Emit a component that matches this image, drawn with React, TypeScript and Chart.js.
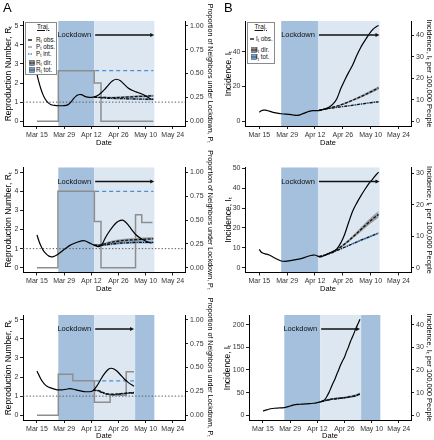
import React, { useEffect, useRef } from 'react';
import { Chart, registerables } from 'chart.js';

Chart.register(...registerables);

type Pt = [number, number];
type Rib = [number, number, number, number]; // day, middle, lower, upper
type Phase = [number, number, string];

const FONT = "'Liberation Sans', Arial, Helvetica, sans-serif";
Chart.defaults.font.family = FONT;

// ---------- shared axis values (x = day, counted so that Mar 15 = 15) ----------
const X_RANGE: Pt = [7.8, 91.3];
const X_TICK_DAYS = [15, 29, 43, 57, 71, 85];
const X_TICK_LABELS = ['Mar 15', 'Mar 29', 'Apr 12', 'Apr 26', 'May 10', 'May 24'];
const R_RANGE: Pt = [-0.25, 5.25];
const R_TICKS = [0, 1, 2, 3, 4, 5];
const P_RANGE: Pt = [-0.05, 1.05];
const P_TICKS = [0, 0.25, 0.5, 0.75, 1];
const R_REFERENCE = 1;

const PHASES_12: Phase[] = [[26, 44.5, 'dark'], [44.5, 75.5, 'light']];
const PHASES_3: Phase[] = [[26, 44.5, 'dark'], [44.5, 65.6, 'light'], [65.6, 75.5, 'dark']];
const LOCKDOWN_12: Pt = [45, 75.2];
const LOCKDOWN_3: Pt = [45, 64.8];

// ---------- Row 1, panel A ----------
const A1_R_OBS: Pt[] = [[15,2.45],[16,2.05],[17,1.7],[18,1.42],[19,1.2],[20,1.05],[21,0.95],[22,0.88],[24,0.83],[26,0.81],[28,0.81],[30,0.83],[31,0.87],[32,0.95],[33,1.07],[34,1.2],[35,1.3],[36,1.37],[37,1.4],[38,1.39],[39,1.34],[40,1.29],[42,1.25],[44,1.26],[46,1.33],[48,1.48],[50,1.68],[52,1.92],[54,2.12],[56,2.2],[58,2.12],[60,1.93],[62,1.74],[64,1.62],[66,1.54],[68,1.47],[70,1.39],[72,1.27],[74,1.14]];
const A1_P_OBS: Pt[] = [[15,0],[26,0.53],[44.5,0.4],[48,0],[75,0]];
const A1_P_INT: Pt[] = [[45,0.53],[75,0.53]];
const A1_R_DIR: Rib[] = [[44.5,1.26,1.25,1.27],[48,1.25,1.22,1.28],[52,1.24,1.2,1.28],[56,1.24,1.2,1.29],[60,1.26,1.21,1.31],[64,1.28,1.23,1.34],[68,1.3,1.24,1.36],[72,1.32,1.26,1.38],[75,1.33,1.27,1.39]];
const A1_R_TOT: Rib[] = [[44.5,1.26,1.25,1.27],[48,1.23,1.2,1.26],[52,1.2,1.17,1.24],[56,1.19,1.15,1.23],[60,1.18,1.14,1.22],[64,1.17,1.13,1.22],[68,1.16,1.12,1.21],[72,1.15,1.1,1.2],[75,1.15,1.1,1.2]];

// ---------- Row 2, panel A ----------
const A2_R_OBS: Pt[] = [[15,1.72],[16,1.4],[17,1.15],[18,0.95],[19,0.8],[20,0.7],[21,0.62],[22,0.58],[23,0.57],[24,0.6],[25,0.65],[26,0.72],[27,0.8],[28,0.88],[30,1.03],[32,1.17],[34,1.27],[36,1.35],[38,1.41],[39,1.42],[40,1.4],[42,1.3],[44,1.2],[46,1.12],[47,1.11],[48,1.16],[49,1.3],[50,1.52],[51,1.7],[52,1.86],[54,2.14],[56,2.37],[58,2.48],[59,2.49],[60,2.45],[62,2.25],[64,1.97],[66,1.73],[68,1.57],[70,1.45],[72,1.36],[74,1.28]];
const A2_P_OBS: Pt[] = [[15,0],[25.8,0.8],[44.6,0.485],[48,0],[65.8,0.555],[69,0.475],[74.5,0.475]];
const A2_P_INT: Pt[] = [[45,0.8],[75,0.8]];
const A2_R_DIR: Rib[] = [[44.5,1.18,1.16,1.2],[48,1.2,1.15,1.25],[52,1.3,1.23,1.37],[56,1.38,1.3,1.46],[60,1.43,1.35,1.52],[64,1.46,1.38,1.55],[68,1.48,1.4,1.57],[72,1.5,1.42,1.59],[75,1.52,1.43,1.61]];
const A2_R_TOT: Rib[] = [[44.5,1.18,1.16,1.2],[48,1.17,1.13,1.21],[52,1.22,1.17,1.28],[56,1.27,1.21,1.33],[60,1.3,1.24,1.36],[64,1.32,1.26,1.39],[68,1.33,1.27,1.4],[72,1.33,1.27,1.4],[75,1.33,1.27,1.4]];

// ---------- Row 3, panel A ----------
const A3_R_OBS: Pt[] = [[15,2.31],[16,2.1],[17,1.9],[18,1.74],[19,1.62],[20,1.53],[22,1.43],[24,1.37],[26,1.33],[28,1.33],[30,1.36],[32,1.39],[34,1.36],[36,1.3],[38,1.26],[40,1.23],[42,1.23],[44,1.3],[46,1.55],[48,1.9],[50,2.2],[52,2.42],[53,2.46],[54,2.45],[56,2.33],[58,2.12],[60,1.9],[62,1.72],[64,1.58],[65,1.52]];
const A3_P_OBS: Pt[] = [[15,0],[26,0.43],[33.5,0.36],[44.6,0.135],[52.7,0.21],[61,0.455],[65,0.455]];
const A3_P_INT: Pt[] = [[45,0.36],[65,0.36]];
const A3_R_DIR: Rib[] = [[44,1.3,1.29,1.31],[46,1.3,1.27,1.33],[48,1.24,1.21,1.27],[50,1.15,1.12,1.18],[52,1.11,1.08,1.14],[54,1.1,1.07,1.13],[56,1.11,1.08,1.14],[58,1.13,1.1,1.16],[60,1.15,1.12,1.18],[62,1.17,1.14,1.2],[65,1.19,1.16,1.22]];
const A3_R_TOT: Rib[] = [[44,1.3,1.29,1.31],[46,1.29,1.26,1.32],[48,1.21,1.18,1.24],[50,1.13,1.1,1.16],[52,1.09,1.06,1.12],[54,1.08,1.05,1.11],[56,1.09,1.06,1.12],[58,1.11,1.08,1.14],[60,1.13,1.1,1.16],[62,1.15,1.12,1.18],[65,1.17,1.14,1.2]];

// ---------- Row 1, panel B ----------
const B1_RANGE: Pt = [-2.75, 57.75];
const B1_TICKS = [0, 20, 40];
const B1_PER100K = 0.806;
const B1_TICKS_100K = [0, 10, 20, 30, 40];
const B1_I_OBS: Pt[] = [[15,5.2],[16,6],[17,6.4],[18,6.4],[20,5.8],[22,5.1],[24,4.7],[26,4.3],[28,4.1],[30,3.9],[32,3.6],[34,3.4],[35,3.5],[36,3.9],[38,4.8],[40,5.7],[42,6.1],[44,6.1],[46,6.4],[48,7.1],[50,8],[52,9.8],[54,13],[56,18.8],[58,23.8],[60,28.3],[62,32.5],[64,37.8],[66,42.5],[68,46.3],[70,49.8],[72,52.8],[74,54.6],[75,55.2]];
const B1_I_DIR: Rib[] = [[45,6.3,6.2,6.4],[50,7.5,7.2,7.8],[55,9,8.6,9.4],[60,11.2,10.7,11.7],[65,13.6,13,14.3],[70,16.3,15.5,17.1],[75,19.2,18.3,20.1]];
const B1_I_TOT: Rib[] = [[45,6.3,6.2,6.4],[50,7.3,7.1,7.5],[55,8.1,7.9,8.4],[60,8.9,8.6,9.2],[65,9.7,9.4,10],[70,10.5,10.2,10.9],[75,11.2,10.8,11.6]];

// ---------- Row 2, panel B ----------
const B2_RANGE: Pt = [-2.4, 50.4];
const B2_TICKS = [0, 10, 20, 30, 40, 50];
const B2_PER100K = 0.632;
const B2_TICKS_100K = [0, 10, 20, 30];
const B2_I_OBS: Pt[] = [[15,9.2],[16,7.8],[17,7.3],[18,7],[20,6.4],[22,5.3],[24,4.3],[26,3.4],[28,3.2],[30,3.4],[32,3.8],[34,4.2],[36,4.6],[38,5.2],[40,5.9],[42,6.3],[43,6.4],[44,6],[45,5.6],[46,5.5],[48,6.3],[50,7.3],[52,8.2],[54,9.5],[56,12.5],[58,17],[60,23],[62,28.5],[64,32.5],[66,36],[68,39.2],[70,42.2],[72,44.6],[74,47],[75,48]];
const B2_I_DIR: Rib[] = [[45,5.6,5.5,5.7],[48,6.4,6.2,6.6],[51,7.5,7.2,7.8],[54,9.1,8.7,9.5],[57,11.2,10.6,11.8],[60,13.6,12.9,14.3],[63,16.3,15.4,17.2],[66,19.1,18,20.2],[69,21.9,20.6,23.2],[72,24.5,23,26],[75,26.8,25.2,28.4]];
const B2_I_TOT: Rib[] = [[45,5.6,5.5,5.7],[48,6.4,6.2,6.6],[51,7.3,7.1,7.5],[54,8.6,8.3,8.9],[57,9.9,9.6,10.2],[60,11.2,10.8,11.6],[63,12.5,12.1,12.9],[66,13.8,13.3,14.3],[69,15,14.5,15.5],[72,16.2,15.7,16.7],[75,17.4,16.8,18]];

// ---------- Row 3, panel B ----------
const B3_RANGE: Pt = [-10.5, 221.5];
const B3_TICKS = [0, 50, 100, 150, 200];
const B3_PER100K = 0.2;
const B3_TICKS_100K = [0, 10, 20, 30, 40];
const B3_I_OBS: Pt[] = [[15,9.5],[17,12],[19,14.3],[21,15.5],[23,16],[25,16.5],[27,18],[29,20.5],[31,23],[33,24],[35,24.5],[37,25],[39,25.6],[41,26.5],[43,28],[45,30],[47,35],[48,42],[49,50],[50,60],[51,70],[52,79],[53,90],[54,100],[55,111],[56,120],[57,128],[58,140],[59,150],[60,162],[61,172],[62,182],[63,193],[64,202],[65,212]];
const B3_I_DIR: Rib[] = [[45,30,29,31],[48,33.5,31.5,35.5],[51,36,34,38],[54,37.5,35.5,39.5],[57,39,37,41],[60,41,39,43.5],[63,44,41.5,46.5],[65,47.5,45,50]];
const B3_I_TOT: Rib[] = [[45,30,29,31],[48,33,31.5,34.5],[51,35.5,34,37],[54,37,35.5,38.5],[57,38.5,37,40],[60,40.5,39,42],[63,43,41.5,44.5],[65,46.5,45,48]];

// ---------- styling ----------
const W = 217;
const H = 147;
const PLOT_H = 105;
const DARK = '#a4c0dc';
const LIGHT = '#dce7f2';
const BLUE = '#4c8fd4';
const GREY_STEP = '#8e8e8e';
const GREY_RIB = 'rgba(105,105,105,0.6)';
const BLUE_RIB = 'rgba(85,150,215,0.7)';
const TICK_COLOR = '#333';
const tickFont = { family: FONT, size: 7 };
const LEFT_TITLE_SIZE = 8.5;
const DATE_TITLE_SIZE = 7.5;

interface PanelCfg {
  left: number;
  top: number;
  padTop: number;
  leftW: number;
  rightW: number;
  leftTitlePad: number;
  rightTitlePad: number;
  rightTitleSize: number;
  obs: Pt[];
  pObs?: Pt[];
  pInt?: Pt[];
  dir: Rib[];
  tot: Rib[];
  phases: Phase[];
  lockdown: Pt;
  yRange: Pt;
  yTicks: number[];
  y2Range: Pt;
  y2Ticks: number[];
  y2Fmt: (v: number) => string;
  leftTitle: string;
  rightTitle: string;
  ref?: number;
}

const perScale = (r: Pt, k: number): Pt => [r[0] * k, r[1] * k];

const PANELS: PanelCfg[] = [
  { left: 0, top: 0, padTop: 21, leftW: 23, rightW: 32, leftTitlePad: 3.5, rightTitlePad: 2.5, rightTitleSize: 7.1,
    obs: A1_R_OBS, pObs: A1_P_OBS, pInt: A1_P_INT, dir: A1_R_DIR, tot: A1_R_TOT, phases: PHASES_12, lockdown: LOCKDOWN_12,
    yRange: R_RANGE, yTicks: R_TICKS, y2Range: P_RANGE, y2Ticks: P_TICKS, y2Fmt: v => v.toFixed(2),
    leftTitle: 'Reproduction Number, Rₜ', rightTitle: 'Proportion of Neighbors under Lockdown, Pₜ', ref: R_REFERENCE },
  { left: 0, top: 146, padTop: 21.5, leftW: 23, rightW: 32, leftTitlePad: 3.5, rightTitlePad: 2.5, rightTitleSize: 7.1,
    obs: A2_R_OBS, pObs: A2_P_OBS, pInt: A2_P_INT, dir: A2_R_DIR, tot: A2_R_TOT, phases: PHASES_12, lockdown: LOCKDOWN_12,
    yRange: R_RANGE, yTicks: R_TICKS, y2Range: P_RANGE, y2Ticks: P_TICKS, y2Fmt: v => v.toFixed(2),
    leftTitle: 'Reproduction Number, Rₜ', rightTitle: 'Proportion of Neighbors under Lockdown, Pₜ', ref: R_REFERENCE },
  { left: 0, top: 293, padTop: 22, leftW: 23, rightW: 32, leftTitlePad: 3.5, rightTitlePad: 2.5, rightTitleSize: 7.1,
    obs: A3_R_OBS, pObs: A3_P_OBS, pInt: A3_P_INT, dir: A3_R_DIR, tot: A3_R_TOT, phases: PHASES_3, lockdown: LOCKDOWN_3,
    yRange: R_RANGE, yTicks: R_TICKS, y2Range: P_RANGE, y2Ticks: P_TICKS, y2Fmt: v => v.toFixed(2),
    leftTitle: 'Reproduction Number, Rₜ', rightTitle: 'Proportion of Neighbors under Lockdown, Pₜ', ref: R_REFERENCE },
  { left: 217, top: 0, padTop: 21, leftW: 28, rightW: 23, leftTitlePad: 7, rightTitlePad: 0, rightTitleSize: 7.5,
    obs: B1_I_OBS, dir: B1_I_DIR, tot: B1_I_TOT, phases: PHASES_12, lockdown: LOCKDOWN_12,
    yRange: B1_RANGE, yTicks: B1_TICKS, y2Range: perScale(B1_RANGE, B1_PER100K), y2Ticks: B1_TICKS_100K, y2Fmt: v => String(v),
    leftTitle: 'Incidence, Iₜ', rightTitle: 'Incidence, Iₜ per 100,000 People' },
  { left: 217, top: 146, padTop: 21.5, leftW: 28, rightW: 23, leftTitlePad: 7, rightTitlePad: 0, rightTitleSize: 7.5,
    obs: B2_I_OBS, dir: B2_I_DIR, tot: B2_I_TOT, phases: PHASES_12, lockdown: LOCKDOWN_12,
    yRange: B2_RANGE, yTicks: B2_TICKS, y2Range: perScale(B2_RANGE, B2_PER100K), y2Ticks: B2_TICKS_100K, y2Fmt: v => String(v),
    leftTitle: 'Incidence, Iₜ', rightTitle: 'Incidence, Iₜ per 100,000 People' },
  { left: 217, top: 293, padTop: 22, leftW: 32, rightW: 23, leftTitlePad: 6, rightTitlePad: 0, rightTitleSize: 7.5,
    obs: B3_I_OBS, dir: B3_I_DIR, tot: B3_I_TOT, phases: PHASES_3, lockdown: LOCKDOWN_3,
    yRange: B3_RANGE, yTicks: B3_TICKS, y2Range: perScale(B3_RANGE, B3_PER100K), y2Ticks: B3_TICKS_100K, y2Fmt: v => String(v),
    leftTitle: 'Incidence, Iₜ', rightTitle: 'Incidence, Iₜ per 100,000 People' },
];

const pts = (a: Pt[]) => a.map(([x, y]) => ({ x, y }));
const col = (b: Rib[], i: number) => b.map(r => ({ x: r[0], y: r[i] }));

function makeDecor(cfg: PanelCfg) {
  return {
    id: 'decor',
    beforeDraw(chart: any) {
      const { ctx, chartArea: a, scales } = chart;
      ctx.save();
      for (const [f, t, k] of cfg.phases) {
        const x1 = scales.x.getPixelForValue(f);
        const x2 = scales.x.getPixelForValue(t);
        ctx.fillStyle = k === 'dark' ? DARK : LIGHT;
        ctx.fillRect(x1, a.top, x2 - x1, a.bottom - a.top);
      }
      ctx.restore();
    },
    beforeDatasetsDraw(chart: any) {
      if (cfg.ref === undefined) return;
      const { ctx, chartArea: a, scales } = chart;
      const y = scales.y.getPixelForValue(cfg.ref);
      ctx.save();
      ctx.strokeStyle = '#555';
      ctx.lineWidth = 1;
      ctx.setLineDash([1.3, 2]);
      ctx.beginPath();
      ctx.moveTo(a.left, y);
      ctx.lineTo(a.right, y);
      ctx.stroke();
      ctx.restore();
    },
    afterDatasetsDraw(chart: any) {
      const { ctx, chartArea: a, scales } = chart;
      const x1 = scales.x.getPixelForValue(cfg.lockdown[0]);
      const x2 = scales.x.getPixelForValue(cfg.lockdown[1]);
      const y = a.top + 14;
      ctx.save();
      ctx.strokeStyle = '#111';
      ctx.fillStyle = '#111';
      ctx.lineWidth = 1.3;
      ctx.beginPath();
      ctx.moveTo(x1, y);
      ctx.lineTo(x2 - 2, y);
      ctx.stroke();
      ctx.beginPath();
      ctx.moveTo(x2 + 0.5, y);
      ctx.lineTo(x2 - 3.5, y - 2);
      ctx.lineTo(x2 - 3.5, y + 2);
      ctx.closePath();
      ctx.fill();
      ctx.font = `7.5px ${FONT}`;
      ctx.textAlign = 'right';
      ctx.textBaseline = 'middle';
      ctx.fillStyle = '#111';
      ctx.fillText('Lockdown', x1 - 4, y);
      ctx.restore();
    },
  };
}

const axisLook = () => ({
  grid: { display: true, drawOnChartArea: false, drawTicks: true, tickLength: 3, color: '#222', lineWidth: 1 },
  border: { display: true, color: '#000', width: 1 },
});

function buildConfig(cfg: PanelCfg): any {
  const base = { pointRadius: 0, pointHoverRadius: 0, fill: false, cubicInterpolationMode: 'monotone' };
  const ds: any[] = [
    { ...base, label: 'obs', data: pts(cfg.obs), borderColor: '#000', borderWidth: 1.2, yAxisID: 'y' },
    { ...base, label: 'dir', data: col(cfg.dir, 1), borderColor: '#111', borderWidth: 1.3, borderDash: [3, 1.5], yAxisID: 'y' },
    { ...base, label: 'tot', data: col(cfg.tot, 1), borderColor: '#111', borderWidth: 1.3, borderDash: [3, 1.2, 1, 1.2], yAxisID: 'y' },
  ];
  if (cfg.pInt) ds.push({ ...base, label: 'pint', data: pts(cfg.pInt), borderColor: BLUE, borderWidth: 1.2, borderDash: [4, 3], yAxisID: 'y2' });
  if (cfg.pObs) ds.push({ ...base, label: 'pobs', data: pts(cfg.pObs), borderColor: GREY_STEP, borderWidth: 1.5, stepped: 'before', yAxisID: 'y2' });
  ds.push({ ...base, label: 'dirHi', data: col(cfg.dir, 3), borderWidth: 0, borderColor: 'rgba(0,0,0,0)', yAxisID: 'y' });
  ds.push({ ...base, label: 'dirLo', data: col(cfg.dir, 2), borderWidth: 0, borderColor: 'rgba(0,0,0,0)', fill: '-1', backgroundColor: GREY_RIB, yAxisID: 'y' });
  ds.push({ ...base, label: 'totHi', data: col(cfg.tot, 3), borderWidth: 0, borderColor: 'rgba(0,0,0,0)', yAxisID: 'y' });
  ds.push({ ...base, label: 'totLo', data: col(cfg.tot, 2), borderWidth: 0, borderColor: 'rgba(0,0,0,0)', fill: '-1', backgroundColor: BLUE_RIB, yAxisID: 'y' });

  return {
    type: 'line',
    data: { datasets: ds },
    options: {
      animation: false,
      responsive: false,
      devicePixelRatio: 1,
      layout: { padding: { top: cfg.padTop, left: 0, right: 0, bottom: 0 } },
      plugins: { legend: { display: false }, tooltip: { enabled: false } },
      events: [],
      scales: {
        x: {
          type: 'linear', min: X_RANGE[0], max: X_RANGE[1],
          afterBuildTicks: (s: any) => { s.ticks = X_TICK_DAYS.map(v => ({ value: v })); },
          afterFit: (s: any) => { s.height = H - cfg.padTop - PLOT_H; },
          ticks: { font: tickFont, color: TICK_COLOR, padding: 1.5, maxRotation: 0, autoSkip: false,
            callback: (_v: any, i: number) => X_TICK_LABELS[i] },
          title: { display: true, text: 'Date', font: { family: FONT, size: DATE_TITLE_SIZE }, color: '#000', padding: 0 },
          ...axisLook(),
        },
        y: {
          type: 'linear', position: 'left', min: cfg.yRange[0], max: cfg.yRange[1],
          afterBuildTicks: (s: any) => { s.ticks = cfg.yTicks.map(v => ({ value: v })); },
          afterFit: (s: any) => { s.width = cfg.leftW; },
          ticks: { font: tickFont, color: TICK_COLOR, padding: 1.5, callback: (v: number) => String(v) },
          title: { display: true, text: cfg.leftTitle, font: { family: FONT, size: LEFT_TITLE_SIZE }, color: '#000', padding: cfg.leftTitlePad },
          ...axisLook(),
        },
        y2: {
          type: 'linear', position: 'right', min: cfg.y2Range[0], max: cfg.y2Range[1],
          afterBuildTicks: (s: any) => { s.ticks = cfg.y2Ticks.map(v => ({ value: v })); },
          afterFit: (s: any) => { s.width = cfg.rightW; },
          ticks: { font: tickFont, color: TICK_COLOR, padding: 2, callback: (v: number) => cfg.y2Fmt(v) },
          title: { display: true, text: cfg.rightTitle, font: { family: FONT, size: cfg.rightTitleSize }, color: '#000', padding: cfg.rightTitlePad },
          ...axisLook(),
        },
      },
    },
    plugins: [makeDecor(cfg)],
  };
}

function Panel({ cfg }: { cfg: PanelCfg }) {
  const ref = useRef<HTMLCanvasElement>(null);
  useEffect(() => {
    const chart = new Chart(ref.current as HTMLCanvasElement, buildConfig(cfg));
    return () => chart.destroy();
  }, [cfg]);
  return (
    <canvas ref={ref} width={W} height={H}
      style={{ position: 'absolute', left: cfg.left, top: cfg.top, width: W, height: H }} />
  );
}

interface LegItem { y: number; sym: 'line' | 'square'; color: string; dash?: string; inner?: string; main: string; rest: string }

const LEGEND_A: LegItem[] = [
  { y: 17, sym: 'line', color: '#000', main: 'R', rest: ' obs.' },
  { y: 24, sym: 'line', color: GREY_STEP, main: 'P', rest: ' obs.' },
  { y: 31, sym: 'line', color: BLUE, dash: '1.5 1', main: 'P', rest: ' int.' },
  { y: 40, sym: 'square', color: '#8c8c8c', inner: '2 1', main: 'R', rest: ' dir.' },
  { y: 47, sym: 'square', color: '#6aa2db', inner: '1 1', main: 'R', rest: ' tot.' },
];
const LEGEND_B: LegItem[] = [
  { y: 16, sym: 'line', color: '#000', main: 'I', rest: ' obs.' },
  { y: 27, sym: 'square', color: '#8c8c8c', inner: '2 1', main: 'I', rest: ' dir.' },
  { y: 34.5, sym: 'square', color: '#6aa2db', inner: '1 1', main: 'I', rest: ' tot.' },
];

function Legend({ box, items, titleLeft, symLeft, textLeft }:
  { box: number[]; items: LegItem[]; titleLeft: number; symLeft: number; textLeft: number }) {
  return (
    <div style={{ position: 'absolute', left: box[0], top: box[1], width: box[2], height: box[3],
      border: '1px solid #8a8a8a', background: '#fff', boxSizing: 'border-box', fontFamily: FONT,
      fontSize: 6.3, color: '#111' }}>
      <div style={{ position: 'absolute', left: titleLeft, top: 0, lineHeight: '8px', textDecoration: 'underline' }}>Traj.</div>
      {items.map((it, i) => (
        <React.Fragment key={i}>
          <svg width={8} height={6} style={{ position: 'absolute', left: it.sym === 'line' ? symLeft - 1 : symLeft, top: it.y - 3 }}>
            {it.sym === 'line' ? (
              <line x1={0} x2={4} y1={3} y2={3} stroke={it.color} strokeWidth={1.3} strokeDasharray={it.dash} />
            ) : (
              <>
                <rect x={0.5} y={0.5} width={5} height={5} fill={it.color} stroke="#555" strokeWidth={0.6} />
                <line x1={0.5} x2={5.5} y1={3} y2={3} stroke="#111" strokeWidth={1} strokeDasharray={it.inner} />
              </>
            )}
          </svg>
          <span style={{ position: 'absolute', left: textLeft, top: it.y - 4, lineHeight: '8px', whiteSpace: 'nowrap' }}>
            {it.main}
            <span style={{ fontSize: 4.5, position: 'relative', top: 1.5 }}>t</span>
            {it.rest}
          </span>
        </React.Fragment>
      ))}
    </div>
  );
}

export default function App() {
  return (
    <div style={{ position: 'absolute', left: 0, top: 0, width: 434, height: 440, background: '#fff', overflow: 'hidden' }}>
      {PANELS.map((p, i) => <Panel key={i} cfg={p} />)}
      <div style={{ position: 'absolute', left: 3, top: 1, fontFamily: FONT, fontSize: 13, lineHeight: '14px' }}>A</div>
      <div style={{ position: 'absolute', left: 224, top: 1, fontFamily: FONT, fontSize: 13, lineHeight: '14px' }}>B</div>
      <Legend box={[25, 21.5, 32, 53]} items={LEGEND_A} titleLeft={11} symLeft={3} textLeft={10} />
      <Legend box={[247, 21.5, 27.5, 42]} items={LEGEND_B} titleLeft={6.5} symLeft={2.5} textLeft={8} />
    </div>
  );
}
